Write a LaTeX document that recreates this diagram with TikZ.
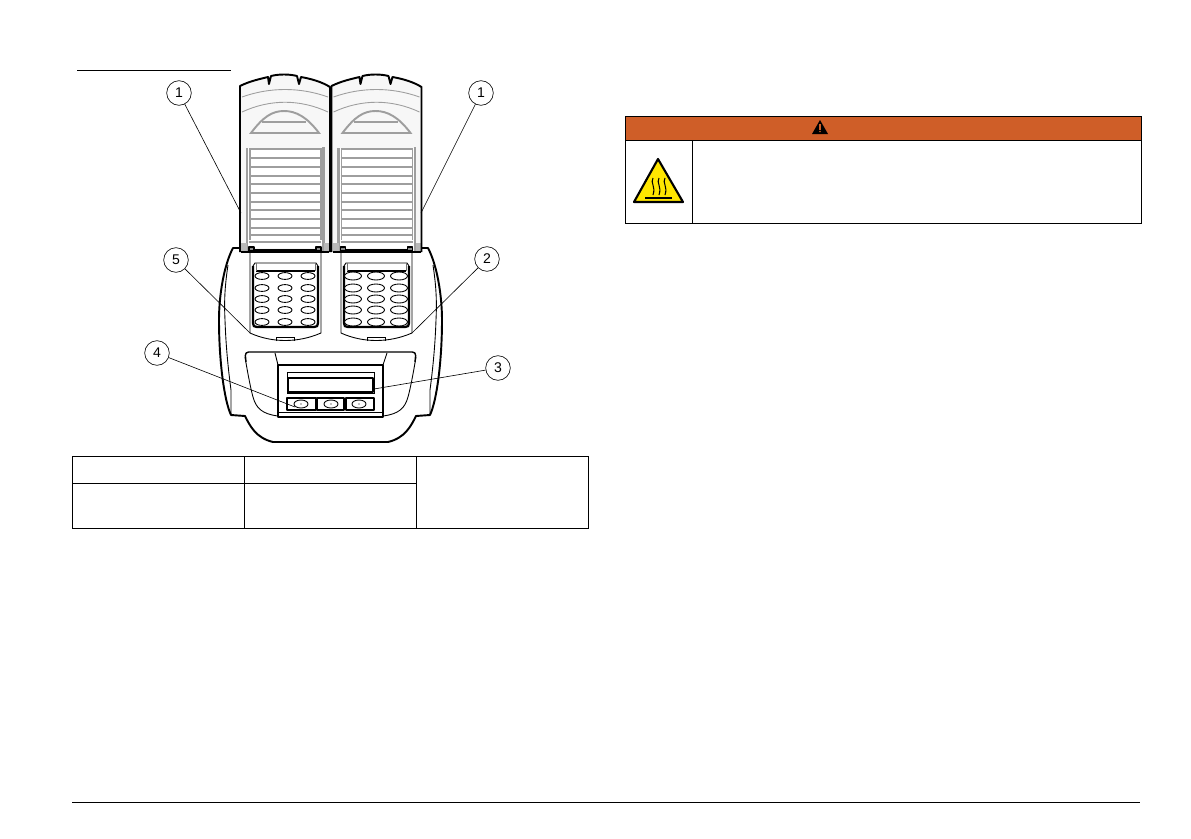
\documentclass[tikz,border=0pt]{standalone}
\usepackage{fontspec}
\setmainfont{Liberation Sans}
\definecolor{warnorange}{RGB}{207,94,40}
\definecolor{hotyellow}{RGB}{255,230,0}
\tikzset{
callout/.style={draw,circle,line width=.35pt,minimum size=14pt,inner sep=0pt,font=\fontsize{8}{9}\selectfont},
leader/.style={line width=.35pt},
body/.style={line width=.8pt,line join=round},
thin body/.style={line width=.5pt},
heavy body/.style={line width=1.1pt,line join=round},
lid gray/.style={draw=black!38,line width=.8pt},
rule/.style={line width=.55pt}
}
\providecommand{\Lid}[1]{
\begin{scope}[shift={(#1,0)}]
\fill[black!3] (240,86) .. controls (255,80) and (265,78) .. (269,78) -- (283,75) -- (298,78) .. controls (310,80) and (322,83) .. (330,87) -- (330,252) -- (240,252) -- cycle;
\draw[lid gray,line width=.5pt] (242,97) .. controls (270,87) and (300,87) .. (328,97);
\draw[lid gray,line width=.5pt] (242,112) .. controls (270,99) and (300,99) .. (328,112);
\draw[lid gray,line width=1.1pt] (251,133) .. controls (263,117) and (272,111) .. (284,111) .. controls (296,111) and (307,117) .. (319,133) -- cycle;
\draw[lid gray,line width=.6pt] (262,122) -- (306,122);
\fill[white] (247,148) rectangle (323,248);
\foreach \y in {149,158,167,176,184,193,202,210,219,228,235,242}{
\draw[lid gray,line width=1.1pt] (249,\y) -- (321,\y);
}
\draw[lid gray,line width=1.3pt] (247,148) -- (247,251);
\draw[lid gray] (250,148) -- (250,240);
\draw[lid gray] (321,148) -- (321,240);
\draw[lid gray,line width=1.3pt] (323.5,147) -- (323.5,251);
\fill[black!28] (241,243) rectangle (247,252);
\fill[black!28] (324,243) rectangle (329,252);
\draw[heavy body] (240,252) -- (240,86) .. controls (250,81) and (260,79) .. (268,77) -- (269,84) -- (271,76) .. controls (279,74) and (289,74) .. (297,76) -- (299,84) -- (301,77) .. controls (312,79) and (322,82) .. (330,87) -- (330,252);
\draw[heavy body] (241,252) -- (329,252);
\draw[heavy body] (250,250) -- (321,250);
\draw[body,fill=black!45] (249,247) rectangle (254,251);
\draw[body,fill=black!45] (316,247) rectangle (321,251);
\end{scope}
}
\providecommand{\Holes}[3]{
\foreach \x in {#1}{
\foreach \y in {276,288,299,310,322}{
\draw[thin body,fill=white] (\x,\y) ellipse [x radius=#2,y radius=#3];
}
}
}
\providecommand{\Well}[1]{
\begin{scope}[shift={(#1,0)}]
\draw[thin body] (0,252) -- (0,333) .. controls (22,343) and (48,343) .. (71,333) -- (71,252);
\draw[thin body] (26,341) -- (26,337) -- (44,337) -- (44,341);
\draw[thin body] (3,266) -- (5,263) -- (66,263) -- (68,266);
\draw[heavy body,line width=1.3pt] (3,266) -- (3,323) .. controls (3,326) and (4,327) .. (7,327) -- (64,327) .. controls (67,327) and (68,326) .. (68,323) -- (68,266);
\draw[body] (6,271) -- (65,271);
\draw[thin body,draw=black!55] (6,263) -- (6,271);
\draw[thin body,draw=black!55] (65,263) -- (65,271);
\end{scope}
}
\begin{document}
\begin{tikzpicture}[x=.02cm,y=-.02cm]
\useasboundingbox (0,0) rectangle (1191,839);
\draw[rule] (77,70) -- (231,70);
\draw[rule] (72,802) -- (1140,802);

\draw[heavy body] (242,248) -- (233,248) .. controls (224,265) and (219,295) .. (219,320) .. controls (219,360) and (224,400) .. (231,415) -- (245,416) .. controls (250,426) and (256,438) .. (273,442) -- (388,442) .. controls (405,438) and (411,426) .. (416,416) -- (430,415) .. controls (437,400) and (442,360) .. (442,320) .. controls (442,295) and (437,265) .. (428,248) -- (419,248);
\draw[thin body] (228,265) .. controls (225,285) and (224,300) .. (225,320) .. controls (226,350) and (229,375) .. (231,390) -- (231,415);
\draw[thin body] (433,265) .. controls (436,285) and (437,300) .. (436,320) .. controls (435,350) and (432,375) .. (430,390) -- (430,415);
\draw[body,rounded corners=2pt] (246,362) -- (245,352) -- (416,352) -- (415,362);
\draw[thin body] (245,357) .. controls (248,375) and (251,390) .. (253,397) .. controls (256,408) and (262,414) .. (278,416);
\draw[thin body] (416,357) .. controls (413,375) and (410,390) .. (408,397) .. controls (405,408) and (399,414) .. (383,416);
\draw[thin body] (275,353) -- (278,365);
\draw[thin body] (387,353) -- (383,365);
\draw[body] (278,417) -- (278,365) -- (383,365) -- (383,417) -- cycle;
\draw[thin body] (278,412) -- (383,412);
\draw[thin body] (287,372) rectangle (374,393);
\draw[body] (288,378) rectangle (373,392);
\foreach \x/\w/\c in {287/316/301,317/344/331,346/374/359}{
\draw[body] (\x,398) rectangle (\w,410);
\draw[thin body] (\c,404) ellipse [x radius=7,y radius=4];
\fill (\c,404) circle (.6);
}

\Well{250}
\Well{341}
\Holes{262,285,308}{7}{3.4}
\Holes{353,376,399}{8.5}{4}
\Lid{0}
\Lid{91.5}

\node[callout] (partLidL) at (179,93) {1};
\node[callout] (partLidR) at (481,93) {1};
\node[callout] (partBlockL) at (176,260) {5};
\node[callout] (partBlockR) at (487,259) {2};
\node[callout] (partKeys) at (157,353) {4};
\node[callout] (partScreen) at (498,368) {3};
\coordinate (endLidL) at (241,213);
\coordinate (endLidR) at (421,213);
\coordinate (endBlockL) at (250,333);
\coordinate (endBlockR) at (412,333);
\coordinate (endKeys) at (295,407);
\coordinate (endScreen) at (374,389);
\draw[leader] (partLidL) -- (endLidL);
\draw[leader] (partLidR) -- (endLidR);
\draw[leader] (partBlockL) -- (endBlockL);
\draw[leader] (partBlockR) -- (endBlockR);
\draw[leader] (partKeys) -- (endKeys);
\draw[leader] (partScreen) -- (endScreen);

\draw[rule] (72,456) rectangle (588,528);
\draw[rule] (72,483) -- (416,483);
\draw[rule] (244,456) -- (244,528);
\draw[rule] (416,456) -- (416,528);

\fill[warnorange] (625,116) rectangle (1141,140);
\draw[rule] (625,116) rectangle (1141,223);
\draw[rule] (625,140) -- (1141,140);
\draw[rule] (692,140) -- (692,223);
\fill[line join=round] (820,120) -- (828,134) -- (812,134) -- cycle;
\fill[warnorange] (819.4,124) rectangle (820.6,129.5);
\fill[warnorange] (820,131.5) circle (.8);
\draw[line width=1.2pt,line join=round,fill=hotyellow] (658,159) -- (683,202) -- (634,202) -- cycle;
\draw[line width=1.1pt] (645,198) -- (672,198);
\foreach \x in {653,659,665}{
\draw[line width=.6pt] (\x,178) .. controls (\x-3,183) and (\x+3,186) .. (\x,195);
}
\end{tikzpicture}
\end{document}
